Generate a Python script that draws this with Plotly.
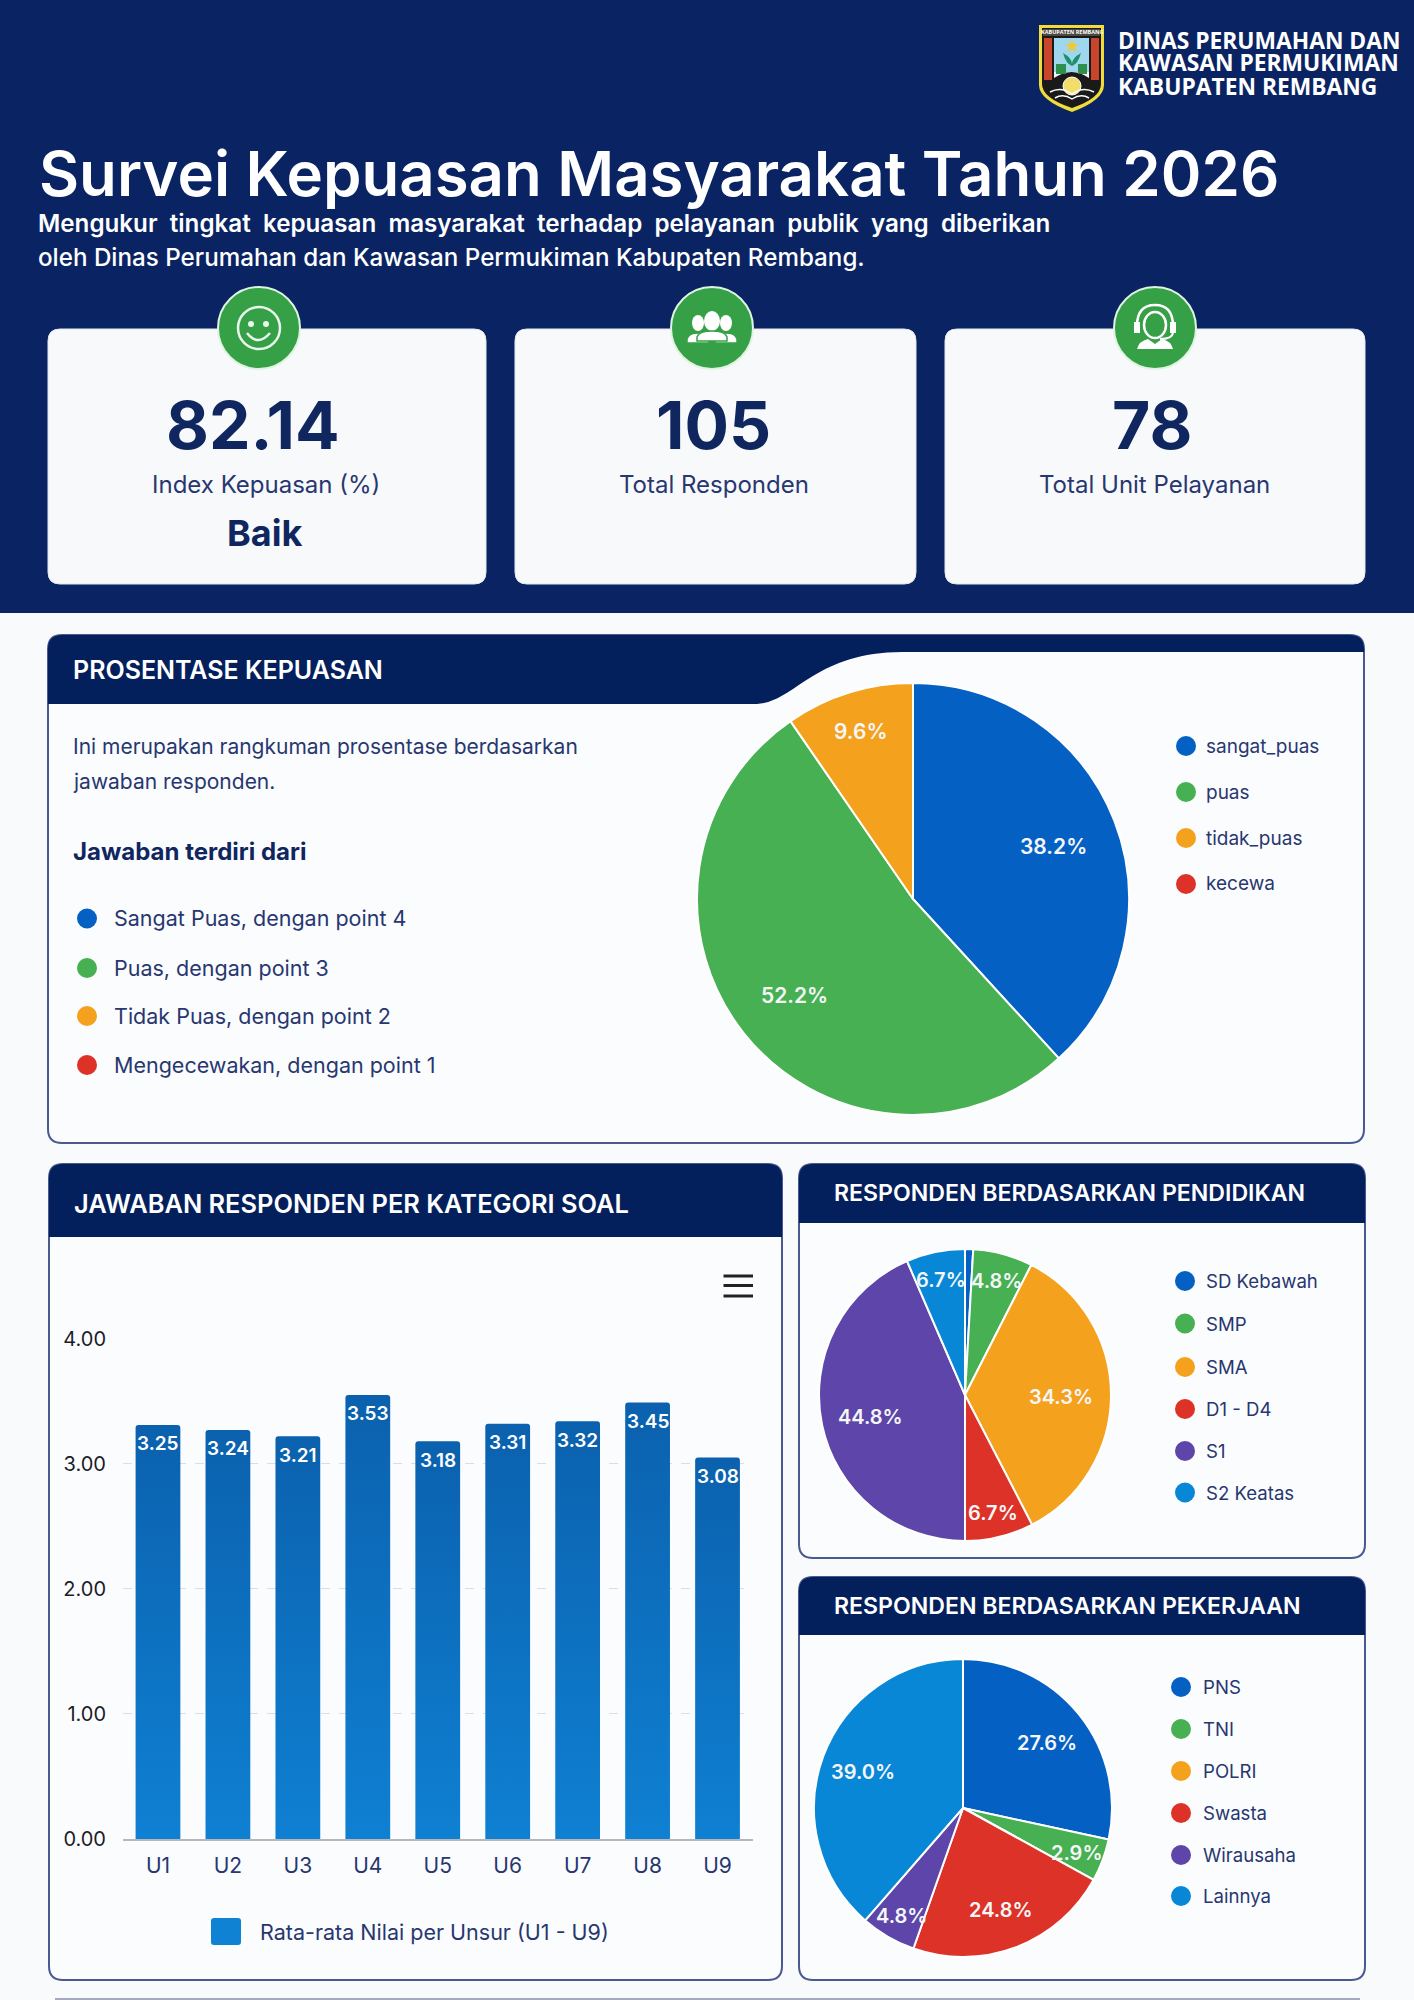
import math
import re
import plotly.graph_objects as go

W = 1414
H = 2000

NAVY = "#0a2463"
HEAD = "#03205c"
BORDER = "#4a5a90"
INK = "#28376f"
PAGE = "#f9fafc"
BLUE = "#0560c4"
GREEN = "#46b052"
ORANGE = "#f4a11d"
RED = "#dc3228"
PURPLE = "#5d45a9"
SKY = "#0887d6"
ICON = "#36a047"

# Data
bar_cats = ["U1", "U2", "U3", "U4", "U5", "U6", "U7", "U8", "U9"]
bar_heights = [3.31, 3.27, 3.22, 3.55, 3.18, 3.32, 3.34, 3.49, 3.05]
bar_labels = ["3.25", "3.24", "3.21", "3.53", "3.18", "3.31", "3.32", "3.45", "3.08"]
y_ticks = [0, 1, 2, 3, 4]

puas_names = ["sangat_puas", "puas", "tidak_puas", "kecewa"]
puas_values = [38.2, 52.2, 9.6, 0]
puas_labels = ["38.2%", "52.2%", "9.6%", ""]
puas_colors = [BLUE, GREEN, ORANGE, RED]

edu_names = ["SD Kebawah", "SMP", "SMA", "D1 - D4", "S1", "S2 Keatas"]
edu_values = [0.9, 6.6, 34.9, 7.6, 43.5, 6.5]
edu_labels = ["", "4.8%", "34.3%", "6.7%", "44.8%", "6.7%"]
edu_colors = [BLUE, GREEN, ORANGE, RED, PURPLE, SKY]

job_names = ["PNS", "TNI", "POLRI", "Swasta", "Wirausaha", "Lainnya"]
job_values = [28.4, 4.6, 0, 22.4, 6.0, 38.6]
job_labels = ["27.6%", "2.9%", "", "24.8%", "4.8%", "39.0%"]
job_colors = [BLUE, GREEN, ORANGE, RED, PURPLE, SKY]

point_items = ["Sangat Puas, dengan point 4", "Puas, dengan point 3",
               "Tidak Puas, dengan point 2", "Mengecewakan, dengan point 1"]

shapes = []
notes = []


def X(v):
    return v / W


def Y(v):
    return 1 - v / H


def to_paper(d):
    # path written in page pixels -> paper coords
    out = []
    nums = re.findall(r"[MLQCZ]|-?\d+\.?\d*", d)
    is_x = True
    for t in nums:
        if t in "MLQCZ":
            out.append(t)
            is_x = True
        else:
            out.append(f"{X(float(t)):.5f}" if is_x else f"{Y(float(t)):.5f}")
            is_x = not is_x
    return " ".join(out)


def path(d, fill=None, line=None, lw=0):
    shapes.append(dict(type="path", xref="paper", yref="paper", path=to_paper(d), layer="below",
                       fillcolor=fill or "rgba(0,0,0,0)",
                       line=dict(color=line or "rgba(0,0,0,0)", width=lw)))


def rect(x0, y0, x1, y1, fill):
    shapes.append(dict(type="rect", xref="paper", yref="paper", x0=X(x0), x1=X(x1), y0=Y(y1), y1=Y(y0),
                       fillcolor=fill, line=dict(width=0), layer="below"))


def circle(cx, cy, r, fill=None, line=None, lw=0, ry=None):
    ry = ry or r
    shapes.append(dict(type="circle", xref="paper", yref="paper", x0=X(cx - r), x1=X(cx + r),
                       y0=Y(cy + ry), y1=Y(cy - ry), layer="below",
                       fillcolor=fill or "rgba(0,0,0,0)",
                       line=dict(color=line or "rgba(0,0,0,0)", width=lw)))


def rounded(x0, y0, x1, y1, r):
    return (f"M {x0 + r} {y0} L {x1 - r} {y0} Q {x1} {y0} {x1} {y0 + r} L {x1} {y1 - r} Q {x1} {y1} {x1 - r} {y1} "
            f"L {x0 + r} {y1} Q {x0} {y1} {x0} {y1 - r} L {x0} {y0 + r} Q {x0} {y0} {x0 + r} {y0} Z")


def top_rounded(x0, y0, x1, y1, r):
    return f"M {x0} {y1} L {x0} {y0 + r} Q {x0} {y0} {x0 + r} {y0} L {x1 - r} {y0} Q {x1} {y0} {x1} {y0 + r} L {x1} {y1} Z"


def text(x, y, s, size, color=INK, weight=400, anchor="left", family="Inter"):
    notes.append(dict(xref="paper", yref="paper", x=X(x), y=Y(y), text=s, showarrow=False,
                      xanchor=anchor, yanchor="middle", borderpad=0,
                      font=dict(size=size, color=color, family=family, weight=weight)))


def legend(x_dot, x_text, ys, names, colors, r=10, size=20):
    for yy, name, col in zip(ys, names, colors):
        circle(x_dot, yy, r, fill=col)
        text(x_text, yy, name, size)


def panel(x0, y0, x1, y1, head_y):
    path(rounded(x0, y0, x1, y1, 14), fill="#fbfcfe", line=BORDER, lw=2)
    path(top_rounded(x0, y0, x1, head_y, 14), fill=HEAD)


def pie_trace(cx, cy, r, names, values, colors, labels, near, lab_size):
    # percent labels sit on the mid angle of each slice
    total = sum(values)
    run = 0
    for v, lab in zip(values, labels):
        mid = (run + v / 2) / total * 2 * math.pi
        run += v
        if lab:
            k = 0.82 if v / total < 0.1 else near
            text(cx + k * r * math.sin(mid), cy + 2 - k * r * math.cos(mid), lab, lab_size, "#f4f6f8", 600, "center")
    return go.Pie(labels=names, values=values, sort=False, direction="clockwise", rotation=0,
                  marker=dict(colors=colors, line=dict(color="white", width=2)),
                  textinfo="none", showlegend=False,
                  domain=dict(x=[X(cx - r), X(cx + r)], y=[Y(cy + r), Y(cy - r)]))


# Header block
rect(0, 0, W, 613, NAVY)

# Crest
path("M 1039 25 L 1104 25 L 1104 85 Q 1104 100 1072 112 Q 1039 100 1039 85 Z", fill="#f0dc3a")
path("M 1042 28 L 1101 28 L 1101 84 Q 1101 98 1072 108 Q 1042 98 1042 84 Z", fill="#1a1a1a")
rect(1043, 29, 1100, 36, "#4a4a42")
rect(1044, 38, 1052, 80, "#c8452c")
rect(1091, 38, 1099, 80, "#c8452c")
rect(1054, 38, 1089, 72, "#9fd8ee")
path("M 1054 72 L 1054 78 Q 1072 66 1089 78 L 1089 72 Z", fill="#f4f4f0")
rect(1056, 64, 1066, 74, "#2f8f4e")
rect(1078, 64, 1087, 74, "#2f8f4e")
path("M 1063 53 Q 1072 58 1072 64 Q 1072 58 1081 53 Q 1078 64 1072 66 Q 1066 64 1063 53 Z", fill="#1f8f6a")
path("M 1072 39 L 1074 44 L 1079 44 L 1075 47 L 1077 52 L 1072 49 L 1067 52 L 1069 47 L 1065 44 L 1070 44 Z", fill="#f0c93a")
circle(1072, 86, 9, fill="#f2dc6a", line="white", lw=1)
path("M 1050 92 Q 1061 86 1072 94 Q 1083 86 1094 92", line="white", lw=1.5)
path("M 1055 98 Q 1063 93 1072 99 Q 1081 93 1089 98", line="white", lw=1.5)
text(1072, 32.5, "KABUPATEN REMBANG", 5.5, "white", 700, "center", "Open Sans")

for yy, line_txt in zip([40.5, 63, 86], ["DINAS PERUMAHAN DAN", "KAWASAN PERMUKIMAN", "KABUPATEN REMBANG"]):
    text(1117, yy, line_txt, 22.8, "white", 700, "left", "Open Sans")

text(38, 173, "Survei Kepuasan Masyarakat Tahun 2026", 61.7, "white", 600)
sp = "\u00a0\u00a0"
text(37, 224, sp.join("Mengukur tingkat kepuasan masyarakat terhadap pelayanan publik yang diberikan".split()),
     24.2, "white", 600)
text(37, 257, "oleh Dinas Perumahan dan Kawasan Permukiman Kabupaten Rembang.", 24.2, "white", 500)

# KPI cards
for x0, x1 in [(48, 486), (515, 916), (945, 1365)]:
    path(rounded(x0, 329, x1, 584, 12), fill="#f8f9fb", line="#e3e7ef", lw=1)

text(253, 425, "82.14", 66, "#10265f", 700, "center")
text(266, 485, "Index Kepuasan (%)", 24, INK, 400, "center")
text(264, 533, "Baik", 36, "#10265f", 700, "center")
text(713, 425, "105", 66, "#10265f", 700, "center")
text(714, 485, "Total Responden", 24, INK, 400, "center")
text(1152, 425, "78", 66, "#10265f", 700, "center")
text(1154, 485, "Total Unit Pelayanan", 24, INK, 400, "center")

# Card icons
for cx in [259, 712, 1155]:
    circle(cx, 328, 41, fill=ICON, line="#dff3e2", lw=2)
circle(259, 328, 21, line="#eaf7ec", lw=2.5)
circle(251, 324, 3, fill="#eaf7ec")
circle(266, 324, 3, fill="#eaf7ec")
path("M 247 333 Q 258 347 270 333", line="#eaf7ec", lw=2.5)

for cx, cy, r, wd in [(698, 323, 6, 11), (726, 323, 6, 11), (712, 321, 8, 15)]:
    circle(cx, cy, r, fill="white", ry=r + 2)
    path(f"M {cx - wd} {cy + 20} L {cx - wd} {cy + 16} Q {cx - wd + 2} {cy + 10} {cx} {cy + 10} "
         f"Q {cx + wd - 2} {cy + 10} {cx + wd} {cy + 16} L {cx + wd} {cy + 20} Z",
         fill="white", line=ICON, lw=1.5)

path("M 1137 326 Q 1137 305 1155 305 Q 1173 305 1173 326", line="white", lw=2.5)
circle(1155, 325, 11, line="white", lw=2.5, ry=13)
rect(1134, 322, 1140, 333, "white")
rect(1170, 322, 1176, 333, "white")
path("M 1173 333 Q 1172 339 1160 339", line="white", lw=2)
path("M 1137 349 Q 1139 341 1148 339 L 1155 344 L 1162 339 Q 1171 341 1173 349 Z", fill="white")

# Prosentase kepuasan panel
path(rounded(48, 635, 1364, 1143, 14), fill="#fbfcfe", line=BORDER, lw=2)
path("M 48 704 L 757 704 C 795 702 815 652 902 652 L 1364 652 L 1364 649 Q 1364 635 1350 635 "
     "L 62 635 Q 48 635 48 649 Z", fill=HEAD)
text(72, 670, "PROSENTASE KEPUASAN", 25, "white", 600)
text(72, 747, "Ini merupakan rangkuman prosentase berdasarkan", 21)
text(72, 781, "jawaban responden.", 21)
text(72, 851, "Jawaban terdiri dari", 24, "#10265f", 700)
legend(87, 113, [918.5, 968, 1016, 1065], point_items, puas_colors, r=10, size=21.5)
legend(1186, 1205, [746, 792, 838, 884], puas_names, puas_colors, r=10, size=19)

# Bar panel
panel(49, 1164, 782, 1980, 1237)
text(73, 1203, "JAWABAN RESPONDEN PER KATEGORI SOAL", 25.4, "white", 600)
for yy in [1276, 1285.5, 1296]:
    rect(723.5, yy - 1.5, 753, yy + 1.5, "#222222")
path(rounded(211, 1918, 241, 1945, 3), fill="#0f82d4")
text(259, 1932, "Rata-rata Nilai per Unsur (U1 - U9)", 21.5)

# Pendidikan + pekerjaan panels
panel(799, 1164, 1365, 1558, 1223)
text(833, 1193, "RESPONDEN BERDASARKAN PENDIDIKAN", 23.1, "white", 600)
legend(1185, 1205, [1281, 1323.5, 1367, 1409, 1451, 1492.5], edu_names, edu_colors, r=10, size=18.6)
panel(799, 1577, 1365, 1980, 1635)
text(833, 1606, "RESPONDEN BERDASARKAN PEKERJAAN", 23.1, "white", 600)
legend(1181, 1202, [1687, 1729, 1771, 1813, 1855, 1896], job_names, job_colors, r=10, size=18.6)

rect(55, 1998, 1360, 2000, "#a5a9bd")

# Value labels just under the top of each bar
for cat, height, lab in zip(bar_cats, bar_heights, bar_labels):
    notes.append(dict(xref="x", yref="y", x=cat, y=height, yshift=-19, text=lab, showarrow=False,
                      yanchor="middle", font=dict(color="white", size=19, family="Inter", weight=600)))

fig = go.Figure()
fig.add_trace(go.Bar(x=bar_cats, y=bar_heights,
                     marker=dict(color="#0d6cbf", line=dict(width=0), cornerradius=3),
                     showlegend=False, cliponaxis=False))
fig.add_trace(pie_trace(913, 899, 216, puas_names, puas_values, puas_colors, puas_labels, 0.7, 21))
fig.add_trace(pie_trace(965, 1395, 146, edu_names, edu_values, edu_colors, edu_labels, 0.66, 20))
fig.add_trace(pie_trace(963, 1808, 149, job_names, job_values, job_colors, job_labels, 0.72, 20))

fig.update_layout(
    width=W, height=H, margin=dict(l=0, r=0, t=0, b=0, autoexpand=False),
    paper_bgcolor=PAGE, plot_bgcolor="rgba(0,0,0,0)",
    bargap=0.36, shapes=shapes, annotations=notes,
    font=dict(family="Inter", color=INK),
    xaxis=dict(domain=[X(123), X(752.5)], anchor="y", showgrid=False, ticks="", automargin=False,
               tickfont=dict(size=21, color=INK), ticklabelstandoff=7,
               showline=True, linecolor="#b5b7bc", linewidth=2, fixedrange=True),
    yaxis=dict(domain=[Y(1839), Y(1338.6)], anchor="x", range=[0, 4], tickvals=y_ticks, tickformat=".2f",
               automargin=False, tickfont=dict(size=20, color="#1c1c28"), ticklabelstandoff=16,
               gridcolor="#d9dde5", griddash="dash", gridwidth=1, zeroline=False, showline=False,
               fixedrange=True),
)

# bars get a vertical gradient, plotly has no option for that
post = """
document.body.style.margin = '0';
document.documentElement.style.margin = '0';
var svg = document.querySelector('.main-svg');
var ns = 'http://www.w3.org/2000/svg';
var grad = document.createElementNS(ns, 'linearGradient');
grad.setAttribute('id', 'barGrad');
grad.setAttribute('x1', '0'); grad.setAttribute('y1', '0');
grad.setAttribute('x2', '0'); grad.setAttribute('y2', '1');
[['0', '#0b61ae'], ['1', '#0f80d2']].forEach(function (s) {
  var stop = document.createElementNS(ns, 'stop');
  stop.setAttribute('offset', s[0]);
  stop.setAttribute('stop-color', s[1]);
  grad.appendChild(stop);
});
var defs = document.createElementNS(ns, 'defs');
defs.appendChild(grad);
svg.appendChild(defs);
document.querySelectorAll('.bars .point path').forEach(function (p) {
  p.style.fill = 'url(#barGrad)';
});
"""
fig.write_html("out.html", config=dict(displayModeBar=False), post_script=post)
